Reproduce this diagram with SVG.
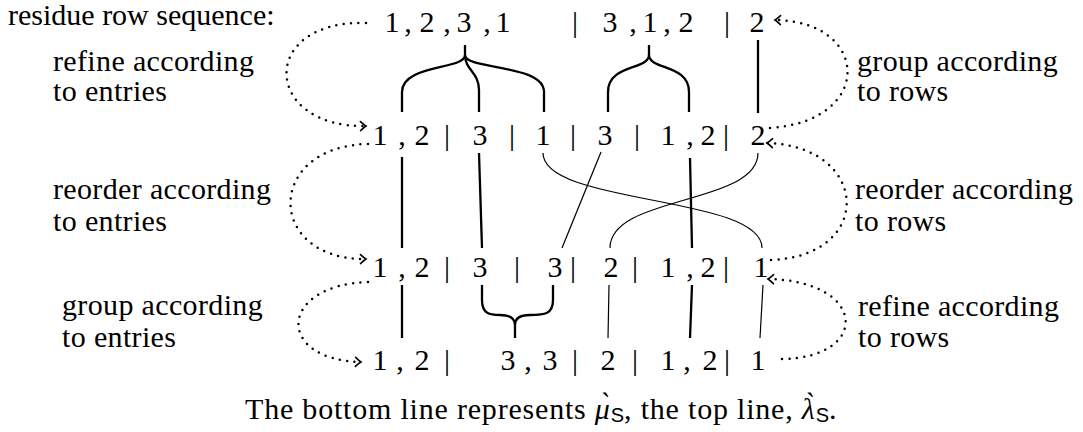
<svg xmlns="http://www.w3.org/2000/svg" width="1083" height="432" viewBox="0 0 1083 432">
<style>
.t{font-family:"Liberation Serif","Times New Roman",serif;font-size:30px;fill:#000}
.lb{letter-spacing:0.35px}
.r text{text-anchor:middle}
.sf{font-family:"Liberation Sans",Arial,sans-serif;font-size:20px;letter-spacing:0}
.thick{fill:none;stroke:#000;stroke-width:2.3}
.thin{fill:none;stroke:#000;stroke-width:1.2}
.dot{fill:none;stroke:#000;stroke-width:2.5;stroke-linecap:round;stroke-dasharray:0 7.4}
</style>
<defs>
<marker id="ah" markerUnits="userSpaceOnUse" markerWidth="14" markerHeight="14" viewBox="-8 -7 10 14" refX="0" refY="0" orient="auto">
<path d="M -5.5 -4.5 Q -2 -1.2 0 0 Q -2 1.2 -5.5 4.5" fill="none" stroke="#000" stroke-width="1.6" stroke-linecap="round"/>
</marker>
</defs>
<rect width="1083" height="432" fill="#fff"/>

<g id="title"><text class="t" x="8" y="25">residue row sequence:</text></g>

<g id="row1" class="t r">
<text x="392" y="32">1</text><text x="408" y="32">,</text><text x="427" y="32">2</text><text x="447" y="32">,</text><text x="464" y="32">3</text><text x="487" y="32">,</text><text x="503" y="32">1</text>
<text x="575" y="32">|</text>
<text x="610" y="32">3</text><text x="633" y="32">,</text><text x="650" y="32">1</text><text x="667" y="32">,</text><text x="686" y="32">2</text>
<text x="727" y="32">|</text>
<text x="757" y="32">2</text>
</g>

<g id="row2" class="t r">
<text x="380" y="145">1</text><text x="402" y="145">,</text><text x="422" y="145">2</text>
<text x="447" y="145">|</text><text x="480" y="145">3</text>
<text x="512" y="145">|</text><text x="543" y="145">1</text>
<text x="573" y="145">|</text><text x="605" y="145">3</text>
<text x="637" y="145">|</text><text x="668" y="145">1</text><text x="690" y="145">,</text><text x="708" y="145">2</text>
<text x="726" y="145">|</text><text x="758" y="145">2</text>
</g>

<g id="row3" class="t r">
<text x="380" y="277">1</text><text x="402" y="277">,</text><text x="422" y="277">2</text>
<text x="447" y="277">|</text><text x="480" y="277">3</text>
<text x="517" y="277">|</text><text x="555" y="277">3</text>
<text x="573" y="277">|</text><text x="611" y="277">2</text>
<text x="635" y="277">|</text><text x="668" y="277">1</text><text x="690" y="277">,</text><text x="708" y="277">2</text>
<text x="726" y="277">|</text><text x="761" y="277">1</text>
</g>

<g id="row4" class="t r">
<text x="380" y="370">1</text><text x="400" y="370">,</text><text x="422" y="370">2</text>
<text x="447" y="370">|</text>
<text x="508" y="370">3</text><text x="528" y="370">,</text><text x="550" y="370">3</text>
<text x="575" y="370">|</text><text x="608" y="370">2</text>
<text x="635" y="370">|</text><text x="668" y="370">1</text><text x="687" y="370">,</text><text x="710" y="370">2</text>
<text x="727" y="370">|</text><text x="758" y="370">1</text>
</g>

<g id="label-refine-entries" class="t lb"><text x="53" y="71">refine according</text><text x="53" y="101">to entries</text></g>
<g id="label-reorder-entries" class="t lb"><text x="53" y="199">reorder according</text><text x="53" y="231">to entries</text></g>
<g id="label-group-entries" class="t lb"><text x="62" y="315">group according</text><text x="62" y="347">to entries</text></g>
<g id="label-group-rows" class="t lb"><text x="857" y="71">group according</text><text x="857" y="101">to rows</text></g>
<g id="label-reorder-rows" class="t lb"><text x="855" y="199">reorder according</text><text x="855" y="231">to rows</text></g>
<g id="label-refine-rows" class="t lb"><text x="858" y="316">refine according</text><text x="858" y="347">to rows</text></g>

<g id="caption"><text class="t" x="245" y="419" style="letter-spacing:0.8px">The bottom line represents <tspan font-style="italic">μ̀</tspan><tspan class="sf" dy="3">S</tspan><tspan dy="-3">, the top line, </tspan><tspan font-style="italic">λ̀</tspan><tspan class="sf" dy="3">S</tspan><tspan dy="-3">.</tspan></text></g>

<g id="connectors">
<path class="thick" d="M465 45 L465 55 C465 70 402 64 402 92 L402 112"/>
<path class="thick" d="M465 55 C465 70 544 64 544 92 L544 112"/>
<path class="thick" d="M465 55 C465 70 479 72 479 90 L479 112"/>
<path class="thick" d="M649 45 L649 55 C649 70 608 64 608 92 L608 112"/>
<path class="thick" d="M649 55 C649 70 689 64 689 92 L689 112"/>
<path class="thick" d="M758 40 L758 113"/>
<path class="thick" d="M402 157 L402 248"/>
<path class="thick" d="M479 153 L482 248"/>
<path class="thin" d="M601 152 L562 248"/>
<path class="thin" d="M543 153 C543 205 762 195 762 248"/>
<path class="thin" d="M758 153 C758 205 610 195 610 248"/>
<path class="thick" d="M690 158 L692 248"/>
<path class="thick" d="M402 285 L402 338"/>
<path class="thick" d="M482 285 L482 300 C482 314 490 315 500 315 C510 315 515 318 515 325 L515 338"/>
<path class="thick" d="M553 285 L553 300 C553 314 545 315 530 315 C520 315 515 318 515 325"/>
<path class="thin" d="M609 285 L608 338"/>
<path class="thick" d="M692 285 L690 338"/>
<path class="thin" d="M763 285 L760 338"/>
<path class="dot" marker-end="url(#ah)" d="M366 23 C258 20 262 128 366 126"/>
<path class="dot" marker-end="url(#ah)" d="M368 144 C265 146 265 260 366 259"/>
<path class="dot" marker-end="url(#ah)" d="M368 282 C278 285 275 360 361 362"/>
<path class="dot" marker-end="url(#ah)" d="M782 359 C870 358 868 281 768 279"/>
<path class="dot" marker-end="url(#ah)" d="M771 260 C875 256 870 146 767 143"/>
<path class="dot" marker-end="url(#ah)" d="M770 128 C875 121 870 21 775 20"/>
</g>
</svg>
